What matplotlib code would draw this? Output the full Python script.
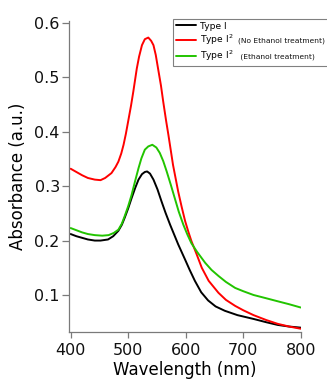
import matplotlib
matplotlib.use("Agg")
import matplotlib.pyplot as plt

# Absorbance spectra (wavelength in nm, absorbance in a.u.)
wl_type1 = [400, 410, 420, 430, 442, 452, 465, 474, 483, 489, 494, 500, 506,
            512, 518, 524, 529, 533, 538, 544, 551, 558, 565, 573, 580, 587,
            593, 599, 607, 616, 627, 639, 652, 668, 690, 718, 740, 760, 780, 800]
abs_type1 = [0.212, 0.208, 0.205, 0.202, 0.200, 0.200, 0.202, 0.208, 0.218,
             0.229, 0.242, 0.259, 0.278, 0.296, 0.312, 0.322, 0.326, 0.327,
             0.323, 0.312, 0.294, 0.272, 0.251, 0.229, 0.211, 0.193, 0.179,
             0.165, 0.146, 0.126, 0.105, 0.090, 0.079, 0.071, 0.063, 0.056,
             0.050, 0.045, 0.042, 0.040]

wl_type2_noeth = [400, 410, 420, 430, 442, 452, 460, 471, 478, 483, 488, 492,
                  496, 500, 505, 509, 515, 519, 524, 529, 535, 540, 544, 548,
                  552, 557, 561, 566, 570, 578, 587, 593, 599, 605, 610, 619,
                  628, 640, 657, 670, 686, 700, 718, 740, 760, 780, 800]
abs_type2_noeth = [0.332, 0.326, 0.320, 0.315, 0.312, 0.311, 0.315, 0.324,
                   0.335, 0.345, 0.360, 0.376, 0.396, 0.419, 0.448, 0.474,
                   0.516, 0.538, 0.559, 0.570, 0.573, 0.567, 0.559, 0.541,
                   0.516, 0.485, 0.455, 0.420, 0.394, 0.339, 0.290, 0.262,
                   0.236, 0.215, 0.199, 0.175, 0.150, 0.126, 0.104, 0.091,
                   0.080, 0.072, 0.063, 0.054, 0.047, 0.042, 0.038]

wl_type2_eth = [400, 410, 420, 430, 442, 455, 466, 475, 483, 489, 494, 500,
                506, 512, 518, 523, 529, 535, 542, 549, 555, 561, 567, 574,
                581, 588, 596, 603, 610, 620, 634, 645, 657, 670, 686, 700,
                718, 740, 758, 780, 800]
abs_type2_eth = [0.223, 0.219, 0.215, 0.212, 0.210, 0.209, 0.210, 0.214,
                 0.220, 0.231, 0.245, 0.263, 0.284, 0.309, 0.333, 0.351,
                 0.367, 0.373, 0.376, 0.371, 0.361, 0.346, 0.327, 0.303,
                 0.278, 0.253, 0.229, 0.211, 0.195, 0.179, 0.159, 0.146,
                 0.135, 0.124, 0.113, 0.107, 0.100, 0.094, 0.089, 0.083, 0.077]

series_labels = ["Type I", "Type I$^2$", "Type I$^2$"]
series_notes = ["", "(No Ethanol treatment)", " (Ethanol treatment)"]
series_colors = ["#000000", "#ff0000", "#22c400"]

x_ticks = [400, 500, 600, 700, 800]
y_ticks = [0.1, 0.2, 0.3, 0.4, 0.5, 0.6]

fig = plt.figure(figsize=(3.27, 3.81), dpi=100)
ax = fig.add_axes([0.2125, 0.1286, 0.7071, 0.8171])

for wl, ab, col, lab in zip([wl_type1, wl_type2_noeth, wl_type2_eth],
                            [abs_type1, abs_type2_noeth, abs_type2_eth],
                            series_colors, series_labels):
    ax.plot(wl, ab, color=col, lw=1.4, label=lab,
            solid_capstyle="round", solid_joinstyle="round")

ax.set_xlim(398, 800)
ax.set_ylim(0.032, 0.604)
ax.set_xticks(x_ticks)
ax.set_xticklabels([str(t) for t in x_ticks])
ax.set_yticks(y_ticks)
ax.set_yticklabels([f"{t:.1f}" for t in y_ticks])

for side in ("top", "right"):
    ax.spines[side].set_visible(False)
for side in ("left", "bottom"):
    ax.spines[side].set_color("#7a7a7a")
    ax.spines[side].set_linewidth(0.9)

ax.tick_params(axis="both", colors="#7a7a7a", labelcolor="#111111",
               labelsize=11.5, width=0.9)
ax.tick_params(axis="y", length=5, pad=2)
ax.tick_params(axis="x", length=4, pad=4)

ax.set_xlabel("Wavelength (nm)", fontsize=12, labelpad=2)
ax.set_ylabel("Absorbance (a.u.)", fontsize=12, labelpad=5)

leg = ax.legend(loc="upper left", bbox_to_anchor=(0.448, 1.006, 0.70, 0.0),
                mode="expand", fontsize=6.6, frameon=True, fancybox=False,
                framealpha=1.0, edgecolor="#808080", borderpad=0.3,
                labelspacing=0.2, handlelength=2.2, handletextpad=0.45,
                borderaxespad=0.0)
leg.get_frame().set_linewidth(0.8)
leg.set_clip_on(False)

for txt, note in zip(leg.get_texts(), series_notes):
    if note:
        ax.annotate(note, xy=(1.0, 0.0), xycoords=txt, xytext=(3, 2.2),
                    textcoords="offset points", va="bottom", ha="left",
                    fontsize=5.4, color="#111111", zorder=10)

fig.savefig("out.png", dpi=100)
